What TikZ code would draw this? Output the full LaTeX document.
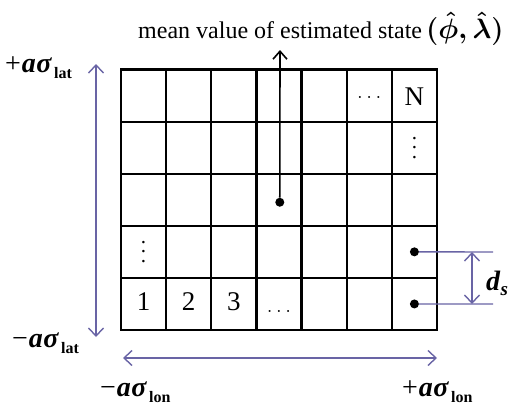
\RequirePackage{fix-cm}
\documentclass[tikz,border=0pt]{standalone}
\usepackage{amsmath}
\usepackage{fontspec}
\setmainfont{Liberation Serif}
\usetikzlibrary{arrows.meta}
\definecolor{lav}{RGB}{105,100,165}
\newcommand{\sigl}[2]{{\fontsize{28}{32}\selectfont #1\kern1pt\textbf{\textit{a\kern0.5pt σ}}}\kern2pt\raisebox{-6pt}{\fontsize{16}{18}\selectfont\textbf{#2}}}
\newcommand{\vdotsbig}{\vbox{\baselineskip=9.5pt\lineskiplimit=-20pt\hbox{.}\hbox{.}\hbox{.}}}
\begin{document}
\begin{tikzpicture}[x=1pt,y=-1pt,
  cell/.style={draw,line width=2.2pt,minimum width=45.14pt,minimum height=52.1pt,inner sep=0pt,outer sep=0pt},
  celltxt/.style={inner sep=0pt,font=\fontsize{27}{30}\selectfont},
  dotstxt/.style={inner sep=0pt,font=\fontsize{21}{24}\selectfont},
  vdtxt/.style={inner sep=0pt,font=\fontsize{21}{24}\selectfont},
  dotnode/.style={circle,fill=black,inner sep=0pt,minimum size=9pt},
  lavline/.style={draw=lav,line width=1.4pt},
  lavarrow/.style={lavline,{Straight Barb[length=8pt,width=15pt]}-{Straight Barb[length=8pt,width=15pt]}},
  blkarrow/.style={draw=black,line width=1.6pt,-{Straight Barb[length=8pt,width=14pt]}},
  lbl/.style={inner sep=0pt,anchor=west}]
\useasboundingbox (0,0) rectangle (515,405);
% grid cells
\foreach \r in {1,...,5}{\foreach \c in {1,...,7}{
  \node[cell] (c\r\c) at ({121+(\c-0.5)*45.14},{69.5+(\r-0.5)*52.1}) {};}}
% cell texts
\node[celltxt] (tN) at ([yshift=-1.5pt]c17) {N};
\node[dotstxt] (thd1) at ([yshift=-1.5pt]c16) {$\ldots$};
\node[vdtxt] (tvd1) at (c27) {\vdotsbig};
\node[vdtxt] (tvd2) at (c41) {\vdotsbig};
\node[celltxt] (t1) at ([yshift=2.5pt]c51) {1};
\node[celltxt] (t2) at ([yshift=2.5pt]c52) {2};
\node[celltxt] (t3) at ([yshift=2.5pt]c53) {3};
\node[dotstxt] (thd2) at ([yshift=-7.5pt]c54) {$\ldots$};
% title and mean arrow
\node[anchor=base west,inner sep=0pt] (title) at (138,38) {\fontsize{24}{28}\selectfont mean value of estimated state\hspace{4pt}{\fontsize{28}{30}\selectfont\boldmath$(\hat{\phi},\hat{\lambda})$}};
\node[dotnode] (m) at ([yshift=-2.5pt,xshift=0.8pt]c34) {};
\coordinate (mtop) at (280,50);
\draw[blkarrow] (m) -- (mtop);
% d_s
\node[dotnode] (d1) at (c47) {};
\node[dotnode] (d2) at (c57) {};
\coordinate (d1e) at (493,252);
\coordinate (d2e) at (493,304);
\draw[lavline] (d1) -- (d1e);
\draw[lavline] (d2) -- (d2e);
\coordinate (dsT) at (472,252);
\coordinate (dsB) at (472,304);
\draw[lavarrow] (dsT) -- (dsB);
\node[lbl] (ds) at (486,283) {\fontsize{28}{30}\selectfont\textbf{\textit{d}}\raisebox{-5pt}{\fontsize{19}{20}\selectfont\textbf{\textit{s}}}};
% lat arrow
\coordinate (latT) at (96,64);
\coordinate (latB) at (96,337);
\draw[lavarrow] (latB) -- (latT);
\node[lbl] (plat) at (5,68) {\sigl{+}{lat}};
\node[lbl] (mlat) at (12,343) {\sigl{−}{lat}};
% lon arrow
\coordinate (lonL) at (123,358);
\coordinate (lonR) at (437,358);
\draw[lavarrow] (lonL) -- (lonR);
\node[lbl] (mlon) at (100,392) {\sigl{−}{lon}};
\node[lbl] (plon) at (402,392) {\sigl{+}{lon}};
\end{tikzpicture}
\end{document}
